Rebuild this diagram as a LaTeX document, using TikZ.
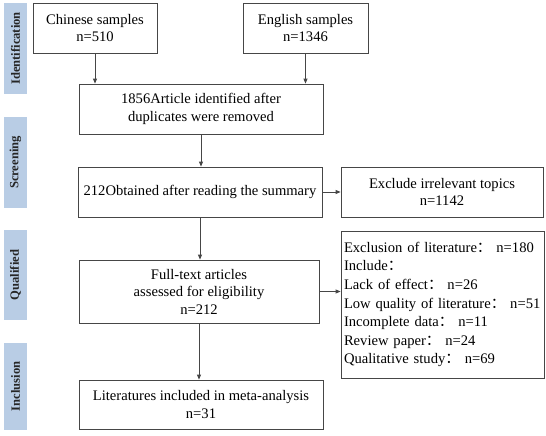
\documentclass[tikz,border=0pt]{standalone}
\usepackage{fontspec}
\setmainfont{Liberation Serif}
\newfontfamily\cjk{Noto Sans CJK SC}
\usepackage{tikz}
\usetikzlibrary{positioning}
\usetikzlibrary{arrows.meta}
\definecolor{stageblue}{RGB}{185,205,229}
\definecolor{edgegray}{RGB}{70,70,70}

\begin{document}
\begin{tikzpicture}[x=1pt,y=-1pt,
        box/.style={draw=edgegray,line width=0.8pt,inner sep=0pt,align=center,
            font=\fontsize{14.6}{17.5}\selectfont},
        stage/.style={fill=stageblue,rotate=90,inner sep=0pt,minimum height=23pt,
            font=\fontsize{12.6}{14}\selectfont\bfseries,text=black!85},
        flow/.style={draw=edgegray,line width=0.8pt,-{Triangle[length=5pt,width=4pt]}}]
    \useasboundingbox (0,0) rectangle (546,436);

    %\node[above] at (273,0) {PRISMA};
    \foreach \y/\h/\name in {48.5/91pt/Identification,162.5/91pt/Screening,275/90pt/Qualified,386.5/87pt/Inclusion}
        \node[stage,minimum width=\h] (stage\name) at (15.5,\y) {\name};

    \node[box,minimum width=124pt,minimum height=50pt] (chinese) at (95,28) {Chinese samples\\n=510};
    \node[box,minimum width=125pt,minimum height=50pt] (english) at (305.5,28) {English samples\\n=1346};
    \node[box,minimum width=244pt,minimum height=50pt] (dedup) at (201,109) {1856Article identified after\\duplicates were removed};
    \node[box,minimum width=244pt,minimum height=50pt] (summary) at (200,192) {212Obtained after reading the summary};
    \node[box,minimum width=202pt,minimum height=50pt] (irrelevant) at (442,192) {Exclude irrelevant topics\\n=1142};
    \node[box,minimum width=240pt,minimum height=63pt] (fulltext) at (199,291.5) {Full-text articles\\assessed for eligibility\\n=212};
    \node[box,align=left,text width=197pt,inner xsep=3pt,minimum height=147pt,
        font=\fontsize{14.6}{18.6}\selectfont] (reasons) at (442.5,304.5)
        {Exclusion of literature{\cjk ：} n=180\\
         Include{\cjk ：}\\
         Lack of effect{\cjk ：} n=26\\
         Low quality of literature{\cjk ：} n=51\\
         Incomplete data{\cjk ：} n=11\\
         Review paper{\cjk ：} n=24\\
         Qualitative study{\cjk ：} n=69};
    \node[box,minimum width=244pt,minimum height=49pt] (included) at (201,404.5) {Literatures included in meta-analysis\\n=31};

    \draw[flow] (chinese.south) -- (chinese.south |- dedup.north);
    \draw[flow] (english.south) -- (english.south |- dedup.north);
    \draw[flow] (dedup.south) -- (dedup.south |- summary.north);
    \draw[flow] (summary) -- (irrelevant);
    \draw[flow] (summary.south) -- (summary.south |- fulltext.north);
    \draw[flow] (fulltext.east) -- (fulltext.east -| reasons.west);
    \draw[flow] (fulltext.south) -- (fulltext.south |- included.north);
\end{tikzpicture}
\end{document}
